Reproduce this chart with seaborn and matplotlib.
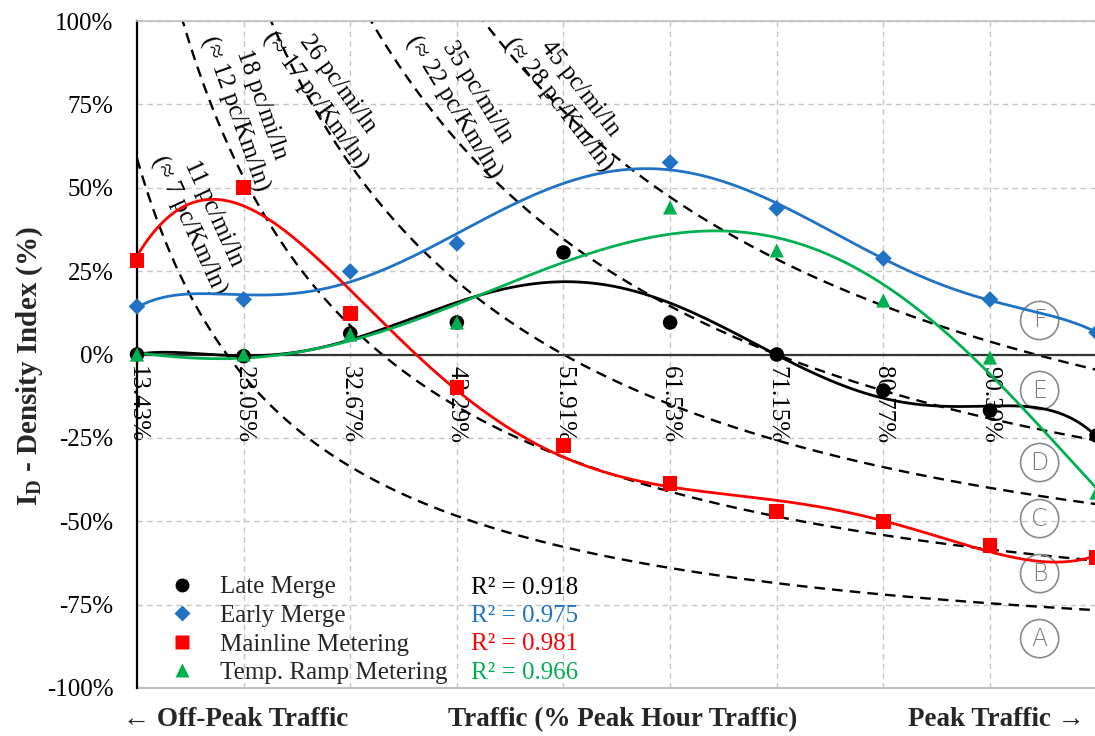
import numpy as np
import pandas as pd
import matplotlib
matplotlib.use("Agg")
import matplotlib.pyplot as plt
import seaborn as sns
from matplotlib.lines import Line2D

# ---- data -------------------------------------------------------------
traffic = [13.43, 23.05, 32.67, 42.29, 51.91, 61.53, 71.15, 80.77, 90.39, 100.0]
traffic_labels = ["13.43%", "23.05%", "32.67%", "42.29%", "51.91%",
                  "61.53%", "71.15%", "80.77%", "90.39%", ""]

late_merge = [0.0, -0.5, 6.3, 9.6, 30.6, 9.6, 0.0, -10.8, -16.8, -24.3]
early_merge = [14.4, 16.5, 24.9, 33.3, np.nan, 57.6, 43.8, 28.8, 16.5, 6.6]
mainline_metering = [28.2, 50.0, 12.3, -9.9, -27.3, -38.7, -47.1, -50.1, -57.3, -60.9]
ramp_metering = [0.0, 0.0, 6.0, 9.6, np.nan, 44.1, 31.2, 16.2, -0.9, -41.4]

series_names = ["Late Merge", "Early Merge", "Mainline Metering", "Temp. Ramp Metering"]
r_squared = ["0.918", "0.975", "0.981", "0.966"]

# baseline density (pc/mi/ln) at each traffic level; iso-density curves follow from it
base_density = [7.0, 11.9, 16.1, 21.3, 26.0, 31.3, 35.1, 38.3, 43.7, 47.2]
iso_density = [11, 18, 26, 35, 45]
iso_text = ["11 pc/mi/ln\n(\u2248 7 pc/Km/ln)",
            "18 pc/mi/ln\n(\u2248 12 pc/Km/ln)",
            "26 pc/mi/ln\n(\u2248 17 pc/Km/ln)",
            "35 pc/mi/ln\n(\u2248 22 pc/Km/ln)",
            "45 pc/mi/ln\n(\u2248 28 pc/Km/ln)"]
zones = ["A", "B", "C", "D", "E", "F"]

# ---- styling / placement ---------------------------------------------
series_values = [late_merge, early_merge, mainline_metering, ramp_metering]
colors = ["#000000", "#1f72c4", "#ff0000", "#00b050"]
markers = ["o", "D", "s", "^"]
marker_sizes = [110, 72, 110, 105]
trend_orders = [6, 6, 5, 5]
iso_label_spots = [(19.2, 40.5, -65.5), (23.45, 73.6, -70.5), (30.48, 78.7, -54.0),
                   (43.02, 76.3, -58.5), (52.4, 77.2, -52.0)]
zone_x = 94.87
zone_y = [-85.2, -65.7, -49.2, -32.4, -10.8, 10.2]

sns.set_theme(style="white")
plt.rcParams["font.family"] = ["Liberation Serif", "DejaVu Serif"]
plt.rcParams["mathtext.fontset"] = "custom"
plt.rcParams["mathtext.rm"] = "Liberation Serif"
plt.rcParams["mathtext.bf"] = "Liberation Serif:bold"
plt.rcParams["mathtext.it"] = "Liberation Serif:italic"

W, H = 1095, 736
fig = plt.figure(figsize=(W / 100, H / 100), dpi=100)
fig.patch.set_facecolor("white")
left, right, top, bottom = 137, 1096.5, 21, 688
ax = fig.add_axes([left / W, 1 - bottom / H, (right - left) / W, (bottom - top) / H])
ax.set_facecolor("white")

ax.set_xlim(traffic[0], traffic[-1])
ax.set_ylim(-100, 100)

# grid
ax.set_xticks(traffic)
ax.set_xticklabels(traffic_labels)
yt = np.arange(-100, 101, 25)
ax.set_yticks(yt)
ax.set_yticklabels([f"{v}%" for v in yt])
ax.grid(True, color="#c6c6c6", linestyle=(0, (4, 3)), linewidth=1.0, zorder=0)
ax.set_axisbelow(True)

ax.spines["right"].set_visible(False)
ax.spines["top"].set_color("#bfbfbf")
ax.spines["top"].set_linewidth(1.2)
ax.spines["left"].set_color("black")
ax.spines["left"].set_linewidth(1.6)
ax.spines["bottom"].set_position(("data", 0))
ax.spines["bottom"].set_color("#333333")
ax.spines["bottom"].set_linewidth(1.6)
ax.axhline(-100, color="#bfbfbf", lw=1.5, clip_on=False, zorder=1)

ax.tick_params(axis="both", length=0, labelsize=18, colors="black")
ax.tick_params(axis="y", pad=17)
ax.tick_params(axis="x", pad=8)
for lab in ax.get_xticklabels():
    lab.set_rotation(-90)
    lab.set_ha("center")
    lab.set_va("top")

# iso-density reference curves
bfit = np.polynomial.Polynomial.fit(traffic, base_density, 3)
tgrid = np.linspace(traffic[0], traffic[-1], 800)
for d in iso_density:
    ax.plot(tgrid, 100 * (d / bfit(tgrid) - 1), color="black", lw=1.7,
            linestyle=(0, (4.5, 3)), zorder=2)

for txt, (tx, ty, ang) in zip(iso_text, iso_label_spots):
    ax.text(tx, ty, txt, rotation=ang, rotation_mode="anchor", ha="center",
            va="center", fontsize=18, color="black", linespacing=1.3, zorder=3)

# zone markers
for z, zy in zip(zones, zone_y):
    ax.text(zone_x, zy, z, ha="center", va="center", fontsize=17, color="#7a7a7a",
            family=["DejaVu Sans"], fontweight="light", zorder=3,
            bbox=dict(boxstyle="circle,pad=0.3", fc="none", ec="#8a8a8a", lw=1.2))

# polynomial trendlines through each series
idx = np.arange(1, len(traffic) + 1, dtype=float)
xs = np.linspace(1, len(traffic), 500)
ts = np.interp(xs, idx, traffic)
for vals, c, deg in zip(series_values, colors, trend_orders):
    y = np.asarray(vals, dtype=float)
    ok = ~np.isnan(y)
    p = np.polynomial.Polynomial.fit(idx[ok], y[ok], deg)
    ax.plot(ts, p(xs), color=c, lw=2.0, zorder=4)

# data markers
for i in range(len(series_values)):
    df = pd.DataFrame({"traffic": traffic, "value": series_values[i]}).dropna()
    sns.scatterplot(data=df, x="traffic", y="value", marker=markers[i],
                    color=colors[i], s=marker_sizes[i], edgecolor="none",
                    linewidth=0, ax=ax, zorder=5 + i, clip_on=False, legend=False)
ax.set_xlabel("")
ax.set_ylabel("")

# legend
handles = [Line2D([], [], linestyle="none", marker=m, color=c, markeredgecolor="none",
                  markersize=ms)
           for m, c, ms in zip(markers, colors, [10, 8, 10, 10])]
leg = ax.legend(handles, series_names, loc="upper left",
                bbox_to_anchor=(169.5 / W, 1 - 576 / H), bbox_transform=fig.transFigure,
                frameon=False, fontsize=18, handlelength=1.0, handletextpad=1.0,
                labelspacing=0.24, borderpad=0, borderaxespad=0)

fig.canvas.draw()
inv = fig.transFigure.inverted()
for t, c, r in zip(leg.get_texts(), colors, r_squared):
    bb = t.get_window_extent()
    y0 = inv.transform((0, bb.y0))[1]
    fig.text(471 / W, y0, f"R\u00b2 = {r}", color=c, fontsize=18, ha="left", va="bottom")

# axis titles
fig.text(30 / W, 1 - 366 / H, r"$\mathbf{I_D}$ - Density Index (%)", rotation=90,
         ha="center", va="center", fontsize=21, fontweight="bold")
fig.text(123 / W, 1 - 720 / H, "\u2190 Off-Peak Traffic", ha="left", va="center",
         fontsize=19.5, fontweight="bold")
fig.text(623 / W, 1 - 720 / H, "Traffic (% Peak Hour Traffic)", ha="center", va="center",
         fontsize=19.5, fontweight="bold")
fig.text(1085 / W, 1 - 720 / H, "Peak Traffic \u2192", ha="right", va="center",
         fontsize=19.5, fontweight="bold")

fig.savefig("out.png", dpi=100, facecolor="white")
